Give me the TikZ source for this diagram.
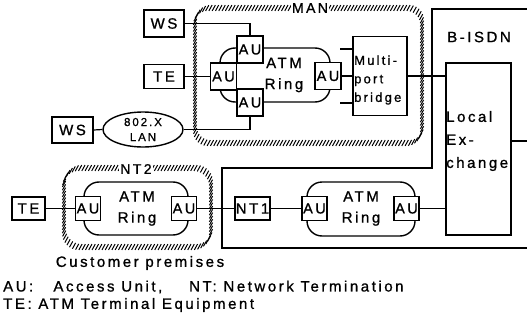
\documentclass[tikz,border=0pt]{standalone}
\usepackage{fontspec}
\setmainfont{Liberation Sans}
\newfontfamily\lsp[LetterSpace=17,FakeBold=1]{Liberation Sans}
\usetikzlibrary{decorations.markings,shapes.geometric}
\tikzset{
  box/.style={draw, fill=white, inner sep=0pt, line width=1.4pt, font=\lsp\fontsize{15}{15}\selectfont},
  au/.style={box, minimum width=26pt, minimum height=27pt, font=\lsp\fontsize{14.5}{14.5}\selectfont},
  aub/.style={box, minimum width=25pt, minimum height=24pt, font=\lsp\fontsize{14.5}{14.5}\selectfont},
  ring/.style={draw, rounded corners=15pt, line width=1.4pt, inner sep=0pt},
  ringtxt/.style={align=center, inner sep=0pt, font=\lsp\fontsize{15}{21}\selectfont},
  lbl/.style={inner sep=0pt, font=\lsp\fontsize{15}{23}\selectfont},
  hatch/.style={decoration={markings, mark=between positions 0 and 1 step 3.3pt with {\pgftransformresetnontranslations \draw[line width=1pt] (-1.6pt,-2.9pt) -- (1.6pt,2.9pt);}}, postaction={decorate}},
  conn/.style={line width=1.2pt},
  isdn/.style={line width=1.8pt}
}
\begin{document}
\begin{tikzpicture}[x=1pt,y=-1pt]
\useasboundingbox (0,0) rectangle (527,321);
% MAN boundary
\path[hatch, rounded corners=14pt] (195,8) rectangle (422,143);
\node[fill=white, inner sep=1.5pt, font=\lsp\fontsize{14}{14}\selectfont] (manlbl) at (310,8) {MAN};
% NT2 boundary
\path[hatch, rounded corners=16pt] (64,168) rectangle (211,247);
\node[fill=white, inner sep=1.5pt, font=\lsp\fontsize{14}{14}\selectfont] (ntlbl) at (136,169) {NT2};
% B-ISDN boundary
\draw[isdn] (527,9) -- (432,9) -- (432,168) -- (222,168) -- (222,248) -- (527,248);
\node[lbl] (isdnlbl) at (479,37) {B-ISDN};

% MAN ring
\node[ring, minimum width=110pt, minimum height=54pt] (ring1) at (275,75) {};
\node[ringtxt] (ring1t) at (284,75) {ATM\\Ring};
\node[au] (autop) at (250,49.5) {AU};
\node[au] (auleft) at (223.5,76.5) {AU};
\node[au] (aubot) at (250,102.5) {AU};
\node[au] (auright) at (328,76) {AU};

% terminals
\node[box, minimum width=40pt, minimum height=27pt] (ws1) at (164,23.5) {WS};
\node[box, minimum width=40pt, minimum height=24pt] (te1) at (164,76.5) {TE};
\node[box, minimum width=41pt, minimum height=26pt] (ws2) at (72.5,130) {WS};
\node[draw, ellipse, line width=1.4pt, inner sep=0pt, minimum width=80pt, minimum height=35pt,
      align=center, font=\lsp\fontsize{11.5}{15}\selectfont] (lan) at (143,129.5) {802.X\\LAN};

% bridge
\node[box, minimum width=54pt, minimum height=79pt] (bridge) at (380,76) {};
\node[anchor=west, align=left, inner sep=0pt, font=\lsp\fontsize{13}{18.5}\selectfont] (bridget) at (354,80) {Multi-\\port\\bridge};
\coordinate (st1) at (340,49);
\coordinate (st2) at (340,103);

% local exchange
\node[box, minimum width=65pt, minimum height=172pt] (lex) at (478.5,149) {};
\node[anchor=west, align=left, inner sep=0pt, font=\lsp\fontsize{15}{23}\selectfont] (lext) at (446,141) {Local\\Ex-\\change};
\coordinate (lexout) at (527,141);

% lower row
\node[box, minimum width=33pt, minimum height=23pt] (te2) at (28.5,208.5) {TE};
\node[ring, minimum width=104pt, minimum height=53pt] (ring2) at (136,208.5) {};
\node[ringtxt] (ring2t) at (137,208.5) {ATM\\Ring};
\node[aub] (au1) at (88,208.5) {AU};
\node[aub] (au2) at (184,208.5) {AU};
\node[box, minimum width=35pt, minimum height=23pt] (nt1) at (252.5,208.5) {NT1};
\node[ring, minimum width=108pt, minimum height=54pt] (ring3) at (361,209) {};
\node[ringtxt] (ring3t) at (361,208.5) {ATM\\Ring};
\node[aub] (au3) at (314.5,208.5) {AU};
\node[aub] (au4) at (406.5,208.5) {AU};

% connectors
\draw[conn] (ws1.east) -| (autop.north);
\draw[conn] (te1.east) -- (auleft.west);
\draw[conn] (ws2.east) -- (lan.west);
\draw[conn] (lan.east) -| (aubot.south);
\draw[conn] (auright.east) -- (auright.east -| bridge.west);
\draw[conn] (st1) -- (st1 -| bridge.west);
\draw[conn] (st2) -- (st2 -| bridge.west);
\draw[conn] (bridge.east) -- (bridge.east -| lex.west);
\draw[conn] (lexout -| lex.east) -- (lexout);
\draw[conn] (te2.east) -- (au1.west);
\draw[conn] (au2.east) -- (nt1.west);
\draw[conn] (nt1.east) -- (au3.west);
\draw[conn] (au4.east) -- (au4.east -| lex.west);

% captions
\node[lbl] (cust) at (140,263) {Customer premises};
\node[lbl, anchor=west] (leg1) at (3,287) {AU:\ \ \ Access Unit,\ \ \ \ NT: Network Termination};
\node[lbl, anchor=west] (leg2) at (3,305) {TE: ATM Terminal Equipment};
\end{tikzpicture}
\end{document}
